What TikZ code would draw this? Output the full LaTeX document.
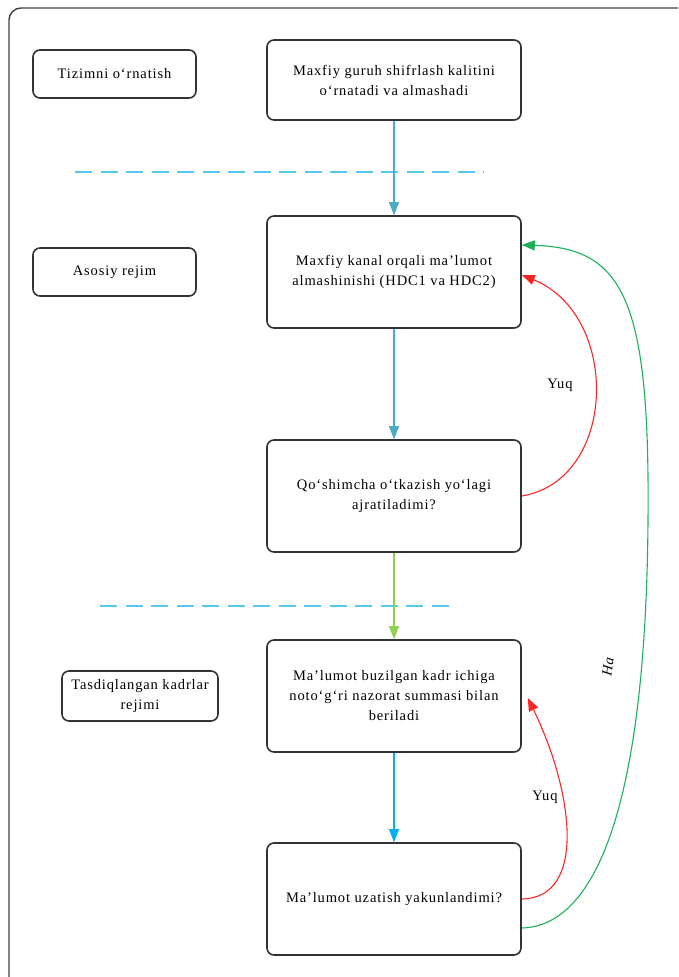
\documentclass[tikz,border=0pt]{standalone}
\usepackage{fontspec}
\setmainfont{Liberation Serif}[LetterSpace=6]
\usetikzlibrary{arrows.meta}

\definecolor{flowblue}{HTML}{4BACC6}
\definecolor{dashblue}{HTML}{55C8F2}
\definecolor{flowlime}{HTML}{92D050}
\definecolor{flowsky}{HTML}{00B0F0}
\definecolor{noRed}{HTML}{FF2424}
\definecolor{yesGreen}{HTML}{1DB15A}

\tikzset{
  stepbox/.style={draw=black!80, line width=1.6pt, rounded corners=7pt, fill=white,
    align=center, minimum width=254pt, minimum height=112pt,
    font=\fontsize{14.5}{20}\selectfont},
  modetag/.style={draw=black!80, line width=1.6pt, rounded corners=7pt, fill=white,
    align=center, minimum width=163pt, minimum height=48pt,
    font=\fontsize{14.5}{20}\selectfont},
  flow/.style={line width=1.1pt, -{Triangle[length=13pt,width=10pt]}},
  sep/.style={dashblue, line width=2.4pt, dash pattern=on 17pt off 8.5pt},
  answer/.style={font=\fontsize{14.5}{16}\selectfont},
}

\begin{document}
\begin{tikzpicture}[x=1pt, y=-1pt]
  \useasboundingbox (0,0) rectangle (678,977);

  % outer frame (cut by the page)
  \draw[black!75, line width=1.4pt, rounded corners=12pt] (9,977) -- (9,8) -- (678,8);

  % mode labels
  \node[modetag] (tagsetup) at (114.5,74) {Tizimni o‘rnatish};
  \node[modetag] (tagmain) at (114.5,272) {Asosiy rejim};
  \node[modetag, minimum width=156pt, minimum height=50pt] (tagframes) at (140,696)
    {Tasdiqlangan kadrlar\\rejimi};

  % steps
  \node[stepbox, minimum height=80pt] (keys) at (394,80)
    {Maxfiy guruh shifrlash kalitini\\o‘rnatadi va almashadi};
  \node[stepbox] (exchange) at (394,272)
    {Maxfiy kanal orqali ma’lumot\\almashinishi (HDC1 va HDC2)};
  \node[stepbox] (lane) at (394,496)
    {Qo‘shimcha o‘tkazish yo‘lagi\\ajratiladimi?};
  \node[stepbox] (corrupt) at (394,696)
    {Ma’lumot buzilgan kadr ichiga\\noto‘g‘ri nazorat summasi bilan\\beriladi};
  \node[stepbox] (done) at (394,899)
    {Ma’lumot uzatish yakunlandimi?};

  % separators between modes
  \draw[sep] (75,172) -- (484,172);
  \draw[sep] (100,606) -- (455,606);

  % main flow
  \draw[flow, flowblue] (keys) -- (exchange);
  \draw[flow, flowblue] (exchange) -- (lane);
  \draw[flow, flowlime] (lane) -- (corrupt);
  \draw[flow, flowsky] (corrupt) -- (done);

  % loops back
  \draw[flow, noRed] (lane.east) .. controls +(96,-16) and +(99,40) ..
    ([yshift=-3pt]exchange.east);
  \node[answer] (no1) at (560,385) {Yuq};

  \draw[flow, noRed] (done.east) .. controls +(66,-1) and +(45,92) ..
    ([xshift=6pt, yshift=-2pt]corrupt.east);
  \node[answer] (no2) at (545,797) {Yuq};

  \coordinate (farright) at (648,520);
  \draw[flow, yesGreen] ([yshift=-29pt]done.east) .. controls +(76,-2) and +(-2,280) ..
    (farright) .. controls +(2,-220) and +(102,3) .. ([yshift=27pt]exchange.east);
  \node[answer, rotate=82, font=\fontsize{14.5}{16}\selectfont\itshape] (yes) at (608,667) {Ha};
\end{tikzpicture}
\end{document}
